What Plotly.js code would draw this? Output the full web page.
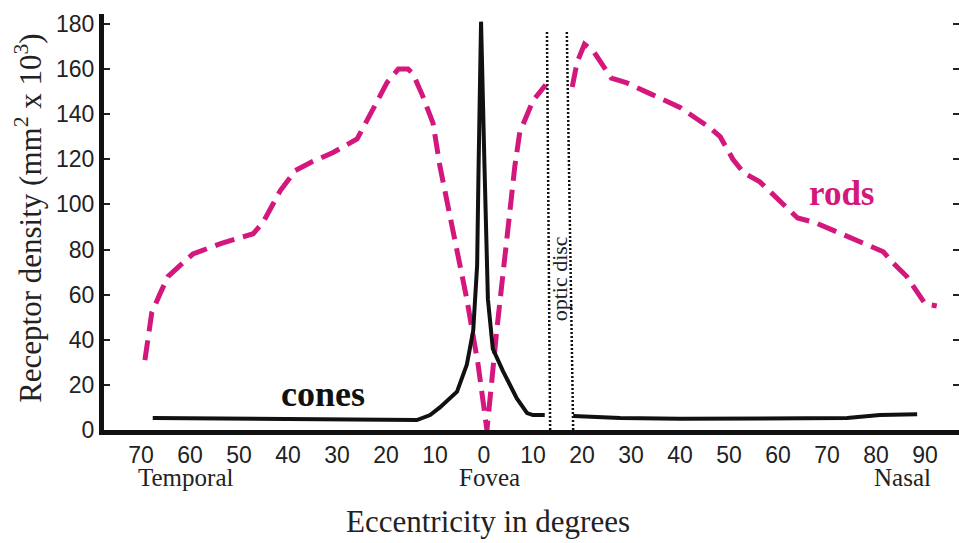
<!DOCTYPE html>
<html>
<head>
<meta charset="utf-8">
<script src="https://cdn.plot.ly/plotly-3.0.1.min.js"></script>
<style>html,body{margin:0;padding:0;background:#fff;}#chart{width:959px;height:543px;}</style>
</head>
<body>
<div id="chart"></div>
<script>
// Rods (temporal side through fovea up to the optic disc, then nasal side)
var rodsX = [-69.2, -67.8, -66.2, -64.5, -61.5, -59.4, -53.9, -47.1, -45.1, -41.6, -38.5, -35.0, -30.8, -25.9, -22.7, -19.8, -17.5, -15.5, -14.5, -12.5, -10.4, -9.0, -6.3, -3.5, -1.2, 0.6, 2.6, 4.7, 6.3, 7.3, 10.0, 12.6,
             null,
             18.0, 19.0, 20.5, 22.3, 26.0, 29.0, 34.0, 40.0, 46.1, 48.2, 50.8, 53.0, 56.3, 64.0, 67.5, 74.1, 81.5, 83.5, 86.3, 90.0, 92.4];
var rodsY = [31, 52, 60, 68, 74, 78, 82.5, 87, 92, 106, 115, 119, 123, 129, 142, 154, 160, 160, 158, 148, 136, 117, 88, 58, 29, 0, 44, 88, 117, 132, 146, 153,
             null,
             152, 163, 171, 168, 156, 154, 149, 143, 134, 130, 120, 114, 110, 94, 92, 86, 79, 74, 68, 56, 55];
// Cones
var conesX = [-67.6, -40.0, -13.7, -11.0, -9.0, -5.5, -3.5, -2.2, -1.4, -1.1, -0.6, 0.1, 0.8, 1.8, 3.9, 6.7, 8.8, 10.0, 12.4,
              null,
              18.2, 27.8, 40.0, 60.0, 74.1, 80.8, 88.4];
var conesY = [5.3, 4.8, 4.4, 6.6, 10, 17, 29, 44, 73, 117, 181, 117, 58, 36, 26, 14, 7.5, 6.6, 6.6,
              null,
              6.2, 5.3, 5.0, 5.0, 5.3, 6.6, 7.0];
// Axis ticks
var yTickVals = [0, 20, 40, 60, 80, 100, 120, 140, 160, 180];
var xTickVals = [-70, -60, -50, -40, -30, -20, -10, 0, 10, 20, 30, 40, 50, 60, 70, 80, 90];
var xTickText = ['70', '60', '50', '40', '30', '20', '10', '0', '10', '20', '30', '40', '50', '60', '70', '80', '90'];
// Optic disc boundaries (degrees, bottom and top)
var discLeft = [13.5, 12.85];
var discRight = [18.2, 16.9];
var discTop = 177;

var pink = '#d4177c';
var serif = '"Liberation Serif", "Times New Roman", serif';
var sans = '"Liberation Sans", Arial, sans-serif';

var traces = [
  {x: rodsX, y: rodsY, mode: 'lines', connectgaps: false, line: {color: pink, width: 5, dash: '20px,9px'}, hoverinfo: 'skip'},
  {x: conesX, y: conesY, mode: 'lines', connectgaps: false, line: {color: '#111', width: 4}, hoverinfo: 'skip'}
];

function ann(o) { o.showarrow = false; o.xanchor = 'center'; o.yanchor = 'middle'; return o; }

var layout = {
  width: 959, height: 543,
  margin: {l: 104, r: 0, t: 14, b: 113},
  paper_bgcolor: '#fff', plot_bgcolor: '#fff',
  showlegend: false,
  xaxis: {
    range: [-77.55, 96.94], showgrid: false, zeroline: false,
    showline: true, linecolor: '#111', linewidth: 5,
    tickmode: 'array', tickvals: xTickVals, ticktext: xTickText, ticks: '',
    tickfont: {family: sans, size: 23, color: '#222'}
  },
  yaxis: {
    range: [0, 184.4], showgrid: false, zeroline: false,
    showline: true, linecolor: '#111', linewidth: 5,
    mirror: 'ticks',
    tickmode: 'array', tickvals: yTickVals, ticks: 'inside', ticklen: 6, tickwidth: 2, tickcolor: '#222',
    tickfont: {family: sans, size: 23, color: '#222'}
  },
  shapes: [
    {type: 'line', xref: 'x', yref: 'y', x0: discLeft[0], y0: 0, x1: discLeft[1], y1: discTop, line: {color: '#111', width: 2.5, dash: '2px,2px'}},
    {type: 'line', xref: 'x', yref: 'y', x0: discRight[0], y0: 0, x1: discRight[1], y1: discTop, line: {color: '#111', width: 2.5, dash: '2px,2px'}}
  ],
  annotations: [
    ann({text: '<b>cones</b>', x: -32.9, y: 15.9, xref: 'x', yref: 'y', font: {family: serif, size: 36, color: '#111'}}),
    ann({text: '<b>rods</b>', x: 73, y: 105, xref: 'x', yref: 'y', font: {family: serif, size: 35, color: pink}}),
    ann({text: 'optic disc', x: 15.4, y: 67, xref: 'x', yref: 'y', textangle: -90, font: {family: serif, size: 22, color: '#222'}}),
    ann({text: 'Temporal', x: -61, y: -0.114, xref: 'x', yref: 'paper', font: {family: serif, size: 25, color: '#222'}}),
    ann({text: 'Fovea', x: 1.1, y: -0.114, xref: 'x', yref: 'paper', font: {family: serif, size: 25, color: '#222'}}),
    ann({text: 'Nasal', x: 85.5, y: -0.114, xref: 'x', yref: 'paper', font: {family: serif, size: 25, color: '#222'}}),
    ann({text: 'Eccentricity in degrees', x: 0.449, y: -0.22, xref: 'paper', yref: 'paper', font: {family: serif, size: 31, color: '#222'}}),
    ann({text: 'Receptor density (mm<sup>2</sup> x 10<sup>3</sup>)', x: -0.0877, y: 0.51, xref: 'paper', yref: 'paper', textangle: -90, font: {family: serif, size: 31, color: '#222'}})
  ]
};

Plotly.newPlot('chart', traces, layout, {displayModeBar: false, staticPlot: true});
</script>
</body>
</html>
